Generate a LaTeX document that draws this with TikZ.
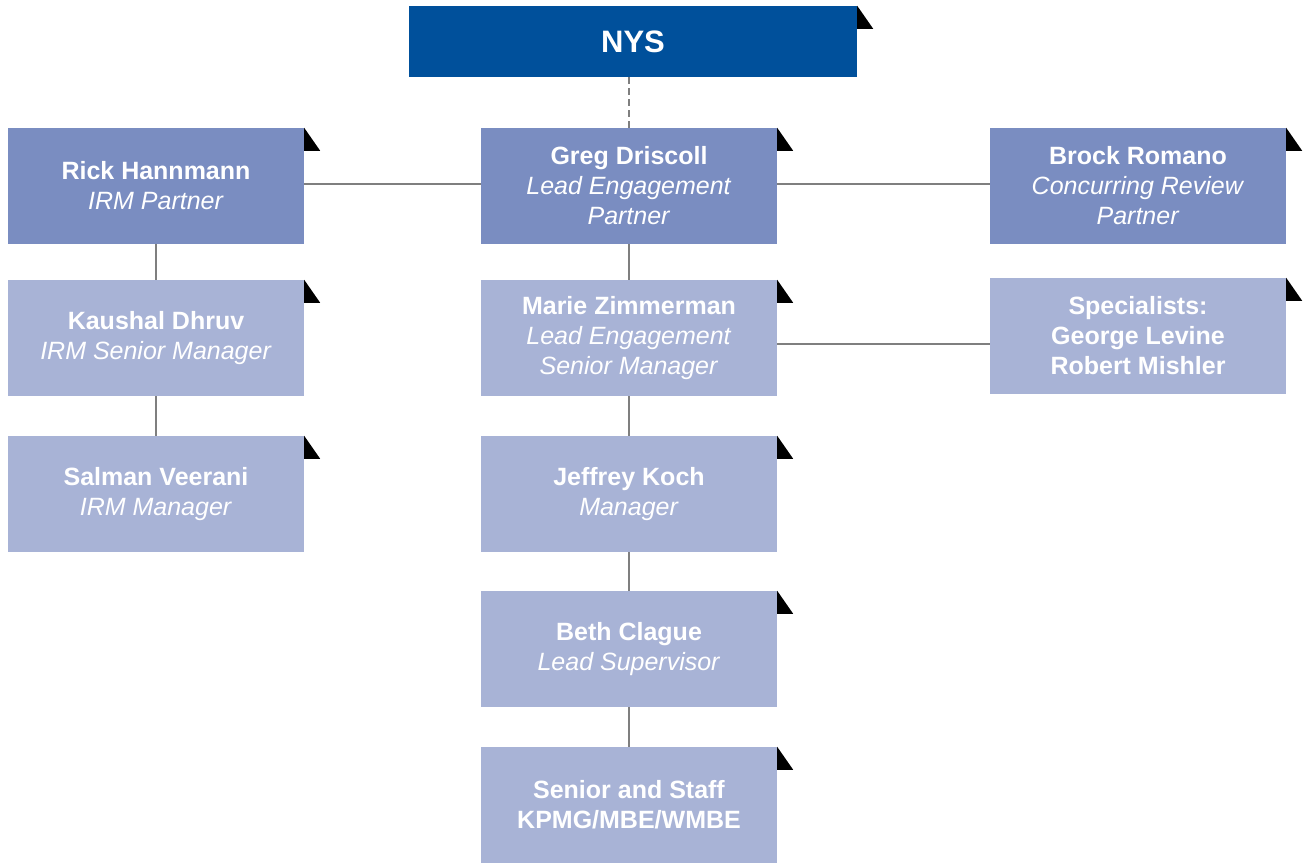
\documentclass[tikz,border=0pt]{standalone}
\usepackage{fontspec}
\setmainfont{Liberation Sans}
\definecolor{nysblue}{HTML}{00509B}
\definecolor{darkbox}{HTML}{7A8DC1}
\definecolor{lightbox}{HTML}{A8B3D6}
\definecolor{linegray}{HTML}{7F7F7F}
\begin{document}
\begin{tikzpicture}[x=1pt,y=-1pt,
  box/.style={minimum width=296pt,minimum height=116pt,inner sep=0pt,text=white,
    align=center,font=\fontsize{25}{30}\selectfont},
  darkb/.style={box,fill=darkbox},
  lightb/.style={box,fill=lightbox},
  conn/.style={draw=linegray,line width=1.4pt}]
\useasboundingbox (0,0) rectangle (1305,863);
\node[fill=nysblue,minimum width=448pt,minimum height=71pt,inner sep=0pt,text=white,
  font=\fontsize{31}{36}\selectfont\bfseries] (nys) at (633,41.5) {NYS};
\node[darkb] (greg) at (629,186) {\textbf{Greg Driscoll}\\\textit{Lead Engagement}\\\textit{Partner}};
\node[darkb] (rick) at (156,186) {\textbf{Rick Hannmann}\\\textit{IRM Partner}};
\node[darkb] (brock) at (1138,186) {\textbf{Brock Romano}\\\textit{Concurring Review}\\\textit{Partner}};
\node[lightb] (kaushal) at (156,338) {\textbf{Kaushal Dhruv}\\\textit{IRM Senior Manager}};
\node[lightb] (salman) at (156,494) {\textbf{Salman Veerani}\\\textit{IRM Manager}};
\node[lightb] (marie) at (629,338) {\textbf{Marie Zimmerman}\\\textit{Lead Engagement}\\\textit{Senior Manager}};
\node[lightb] (spec) at (1138,336) {\textbf{Specialists:}\\\textbf{George Levine}\\\textbf{Robert Mishler}};
\node[lightb] (jeff) at (629,494) {\textbf{Jeffrey Koch}\\\textit{Manager}};
\node[lightb] (beth) at (629,649) {\textbf{Beth Clague}\\\textit{Lead Supervisor}};
\node[lightb] (staff) at (629,805) {\textbf{Senior and Staff}\\\textbf{KPMG/MBE/WMBE}};
\foreach \n in {nys,greg,rick,brock,kaushal,salman,marie,spec,jeff,beth,staff}
  \fill[black] (\n.north east) -- ++(0,23) -- ++(16,0) -- cycle;
\draw[conn,dash pattern=on 7pt off 4pt] (nys.south -| greg.north) -- (greg.north);
\draw[conn] ([yshift=2pt]rick.east) -- ([yshift=2pt]greg.west);
\draw[conn] ([yshift=2pt]greg.east) -- ([yshift=2pt]brock.west);
\draw[conn] (rick.south) -- (kaushal.north);
\draw[conn] (kaushal.south) -- (salman.north);
\draw[conn] (greg.south) -- (marie.north);
\draw[conn] ([yshift=-6pt]marie.east) -- ([yshift=-6pt]marie.east -| spec.west);
\draw[conn] (marie.south) -- (jeff.north);
\draw[conn] (jeff.south) -- (beth.north);
\draw[conn] (beth.south) -- (staff.north);
\end{tikzpicture}
\end{document}
